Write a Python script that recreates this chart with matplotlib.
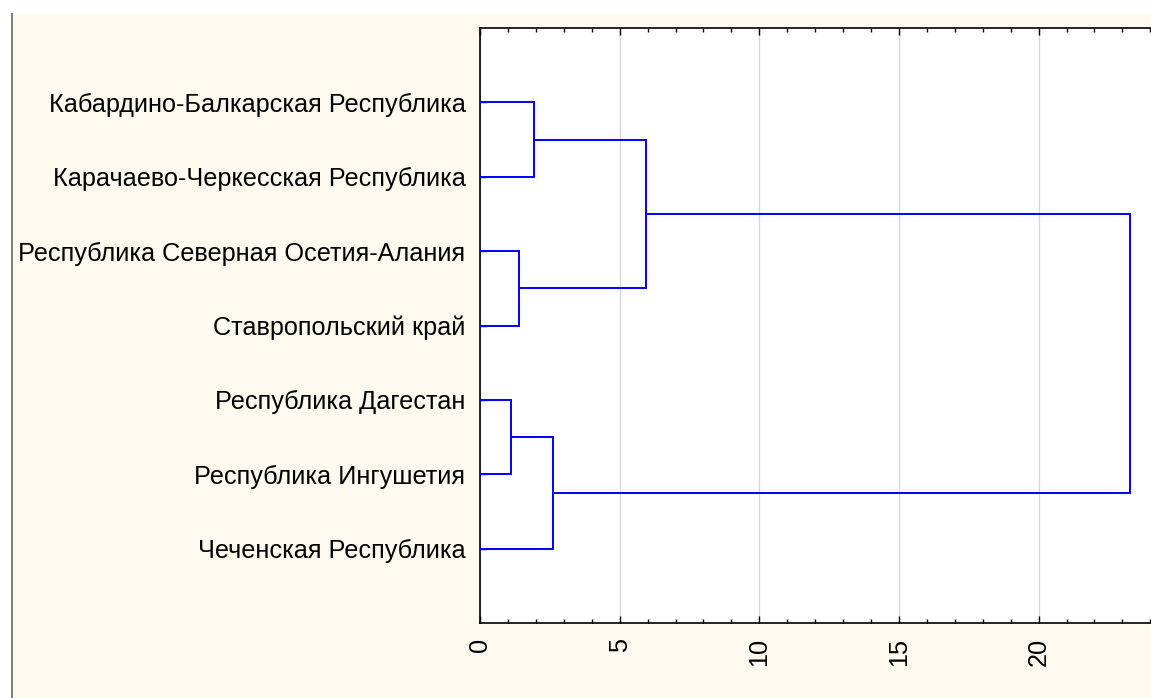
import numpy as np
import matplotlib
matplotlib.use('agg')
from matplotlib import pyplot as plt
from matplotlib.patches import Rectangle
from matplotlib.ticker import MultipleLocator

# leaf labels, top to bottom
labels = ["Кабардино-Балкарская Республика",
          "Карачаево-Черкесская Республика",
          "Республика Северная Осетия-Алания",
          "Ставропольский край",
          "Республика Дагестан",
          "Республика Ингушетия",
          "Чеченская Республика"]

# merges: (left member, right member, linkage distance); members >= 7 are clusters
merges = [(4, 5, 1.11),
          (2, 3, 1.40),
          (0, 1, 1.93),
          (7, 6, 2.61),
          (9, 8, 5.94),
          (11, 10, 23.27)]

x_ticks = [0, 5, 10, 15, 20]

W, H = 1151, 698
fig = plt.figure(figsize=(W / 100, H / 100), dpi=100, facecolor='white')
cream = '#FEF9EE'
fig.patches.append(Rectangle((13 / W, 0), 1, 1 - 13 / H, transform=fig.transFigure,
                             facecolor=cream, edgecolor='none', zorder=-10))

ax = fig.add_axes([480 / W, (H - 623) / H, (W - 480) / W + 0.01, (623 - 28) / H])
ax.set_facecolor('white')

# compute dendrogram coords
pos = {i: i + 1 for i in range(len(labels))}
height = {i: 0.0 for i in range(len(labels))}
for k, (a, b, d) in enumerate(merges):
    node = len(labels) + k
    ya, yb = pos[a], pos[b]
    ax.plot([height[a], d, d, height[b]], [ya, ya, yb, yb], color='#0000FF', lw=1.4,
            solid_joinstyle='miter', zorder=3)
    pos[node] = (ya + yb) / 2
    height[node] = d

ax.set_xlim(0, (W + 12 - 480) / 27.95)
ax.set_ylim(8, 0)
ax.set_yticks(range(1, len(labels) + 1))
ax.set_yticklabels(labels, fontsize=18.2, family='Liberation Sans')
ax.set_xticks(x_ticks)
ax.set_xticklabels([str(t) for t in x_ticks], rotation=90, fontsize=18.2,
                   family='Liberation Sans')
ax.xaxis.set_minor_locator(MultipleLocator(1))
ax.tick_params(axis='x', which='both', direction='in', top=True, bottom=True, pad=11)
ax.tick_params(axis='x', which='major', length=5, width=1)
ax.tick_params(axis='x', which='minor', length=3, width=1)
ax.tick_params(axis='y', direction='in', length=5, width=1, pad=10.5)
ax.grid(axis='x', which='major', color='#d8d8d8', lw=1)
ax.set_axisbelow(True)
for s in ['left', 'top', 'bottom']:
    ax.spines[s].set_linewidth(1.2)
ax.spines['right'].set_visible(False)

# mask left margin and frame line
fig.patches.append(Rectangle((0, 0), 11 / W, 1, transform=fig.transFigure,
                             facecolor='white', edgecolor='none', zorder=10))
fig.patches.append(Rectangle((11 / W, 0), 2 / W, 1 - 13 / H, transform=fig.transFigure,
                             facecolor='#808080', edgecolor='none', zorder=11))
fig.patches.append(Rectangle((0, 1 - 13 / H), 1, 13 / H, transform=fig.transFigure,
                             facecolor='white', edgecolor='none', zorder=10))

fig.savefig('out.png', dpi=100, facecolor=fig.get_facecolor())
